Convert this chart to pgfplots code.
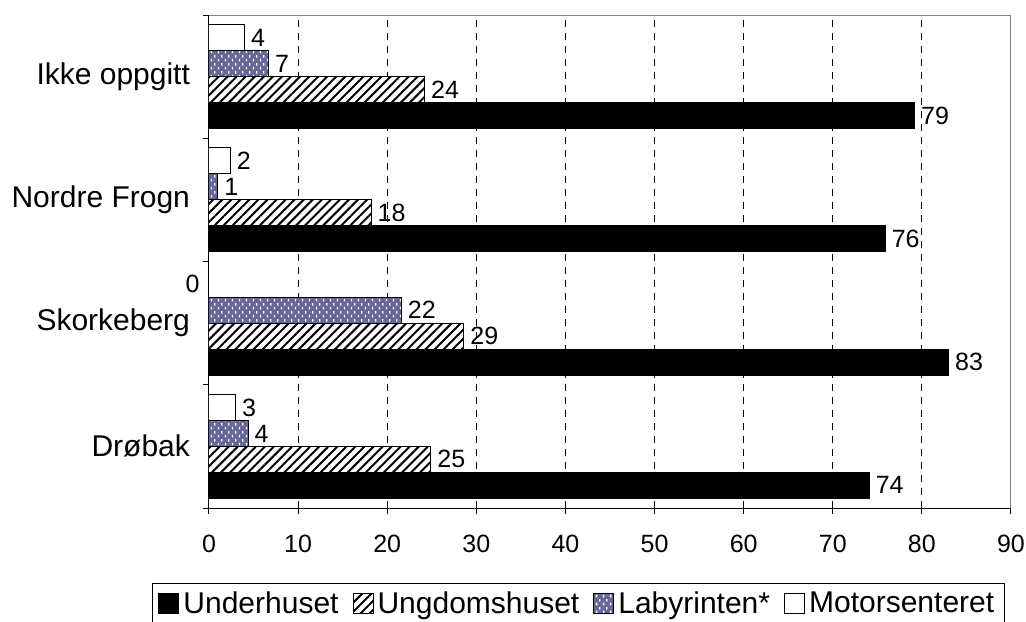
\documentclass[border=0pt]{standalone}
\usepackage{fontspec}
\setmainfont{Liberation Sans}
\usepackage{pgfplots}
\pgfplotsset{compat=1.18}
\usepackage{pgfplotstable}
\usetikzlibrary{patterns,patterns.meta}

\definecolor{labcol}{RGB}{102,102,153}
\definecolor{framegray}{RGB}{128,128,128}

\tikzdeclarepattern{
  name=labdash,
  type=uncolored,
  bounding box={(0,0) and (3.5pt,4pt)},
  tile size={(3.5pt,4pt)},
  code={
    \draw[line width=0.7pt] (0.9pt,0.4pt) -- (0.9pt,1.8pt);
    \draw[line width=0.7pt] (2.65pt,2.4pt) -- (2.65pt,3.8pt);
  }
}

% y: 0 Drøbak, 1 Skorkeberg, 2 Nordre Frogn, 3 Ikke oppgitt
\pgfplotstableread{
y under ungdom lab underL ungdomL labL
0 74.1 24.9 4.4 74 25 4
1 83.0 28.6 21.6 83 29 22
2 75.9 18.2 1.0 76 18 1
3 79.2 24.2 6.7 79 24 7
}\data
\pgfplotstableread{
y motor motorL
0 3.0 3
2 2.4 2
3 4.0 4
}\motordata

\begin{document}
\begin{tikzpicture}
\begin{axis}[
  at={(0,0)}, anchor=south west,
  scale only axis, width=401pt, height=246.5pt,
  xbar, bar width=0.211,
  xmin=0, xmax=90, ymin=-0.5, ymax=3.5,
  axis lines*=left,
  axis line style={black, line width=0.5pt},
  xtick={0,10,...,90},
  ytick={-0.5,0.5,1.5,2.5,3.5},
  yticklabels={Drøbak,Skorkeberg,Nordre Frogn,Ikke oppgitt},
  y tick label as interval,
  tick align=outside,
  major tick length=3pt,
  tick style={black, line width=0.5pt},
  extra x ticks={10,20,...,80},
  extra x tick labels={},
  extra x tick style={xmajorgrids=true, major tick length=0pt,
    grid style={black, line width=0.5pt, dash pattern=on 3.5pt off 3pt}},
  /pgf/number format/assume math mode=true,
  xticklabel style={font=\fontsize{12.5}{14}\selectfont, yshift=-7pt},
  yticklabel style={font=\fontsize{15}{17}\selectfont, xshift=-3pt},
  point meta=explicit,
  nodes near coords,
  nodes near coords style={font=\fontsize{12.5}{14}\selectfont, black, anchor=west, inner xsep=3pt},
  legend columns=4,
  legend style={at={(-0.0711,-0.152)}, anchor=north west, draw=black,
    line width=0.5pt, font=\fontsize{15}{17}\selectfont,
    inner xsep=3pt, inner ysep=2pt,
    /tikz/every even column/.append style={column sep=5pt}},
  legend image code/.code={\draw[#1, line width=0.5pt] (0pt,-5pt) rectangle (10pt,5pt);},
]
\addplot[fill=black, draw=black, line width=0.5pt, bar shift=-0.316]
  table[x=under, y=y, meta=underL] {\data};
\addlegendentry{Underhuset}
\addplot[fill=white, draw=black, line width=0.5pt, bar shift=-0.105,
  postaction={pattern={Lines[angle=45,distance=3.2pt,line width=1pt]}, pattern color=black}]
  table[x=ungdom, y=y, meta=ungdomL] {\data};
\addlegendentry{Ungdomshuset}
\addplot[fill=labcol, draw=black, line width=0.5pt, bar shift=0.105,
  postaction={pattern=labdash, pattern color=white}]
  table[x=lab, y=y, meta=labL] {\data};
\addlegendentry{Labyrinten*}
\addplot[fill=white, draw=black, line width=0.5pt, bar shift=0.316]
  table[x=motor, y=y, meta=motorL] {\motordata};
\addlegendentry{Motorsenteret}
% Skorkeberg, Motorsenteret = 0 (label set left of the axis)
\addplot[draw=none, fill=none, bar shift=0.316, forget plot,
  nodes near coords style={anchor=east, xshift=-1.5pt}]
  coordinates {(0,1) [0]};
\draw[framegray, line width=1pt] (rel axis cs:0,1) -- (rel axis cs:1,1) -- (rel axis cs:1,0);
\end{axis}
\pgfresetboundingbox
\path (-104.5pt,-56.5pt) rectangle (408.5pt,254pt);
\end{tikzpicture}
\end{document}
